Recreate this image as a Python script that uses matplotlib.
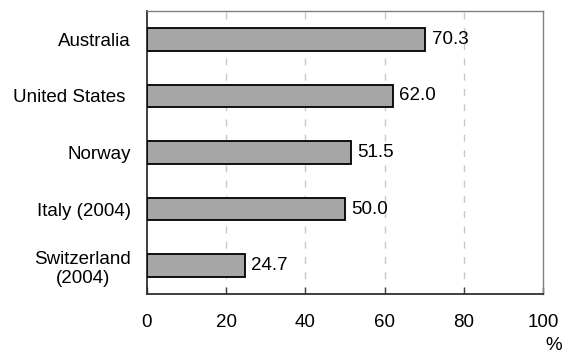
import matplotlib
matplotlib.use("Agg")
import matplotlib.pyplot as plt

countries = ["Australia", "United States ", "Norway", "Italy (2004)", "Switzerland\n(2004)"]
values = [70.3, 62.0, 51.5, 50.0, 24.7]
xticks = [0, 20, 40, 60, 80, 100]

plt.rcParams["font.family"] = ["Liberation Sans", "DejaVu Sans"]
FS = 13.5

fig = plt.figure(figsize=(5.64, 3.54), dpi=100)
ax = fig.add_axes([147 / 564, 1 - 294 / 354, (543 - 147) / 564, (294 - 11) / 354])

ypos = list(range(len(countries)))
ax.barh(ypos, values, height=0.4, color="#a6a6a6", edgecolor="black", linewidth=1.3, zorder=3)
for y, v in zip(ypos, values):
    ax.text(v + 1.6, y, f"{v:.1f}", va="center", ha="left", fontsize=FS, zorder=4)

ax.set_ylim(len(countries) - 0.5, -0.5)
ax.set_xlim(0, 100)
ax.set_yticks(ypos)
ax.set_yticklabels(countries, fontsize=FS, ha="right", multialignment="center")
ax.tick_params(axis="y", length=0, pad=11.5)
ax.set_xticks(xticks)
ax.set_xticklabels([str(t) for t in xticks], fontsize=FS)
ax.tick_params(axis="x", direction="in", length=5, width=1, color="#404040", pad=14.5)

for t in xticks[1:-1]:
    ax.axvline(t, color="#c8c8c8", linestyle=(0, (5, 6)), linewidth=1, zorder=1)

for side in ["left", "bottom"]:
    ax.spines[side].set_color("#303030")
    ax.spines[side].set_linewidth(1.3)
for side in ["top", "right"]:
    ax.spines[side].set_color("#808080")
    ax.spines[side].set_linewidth(1)

fig.text(554 / 564, 1 - 345 / 354, "%", fontsize=FS, ha="center", va="center")

fig.savefig("out.png", dpi=100)
